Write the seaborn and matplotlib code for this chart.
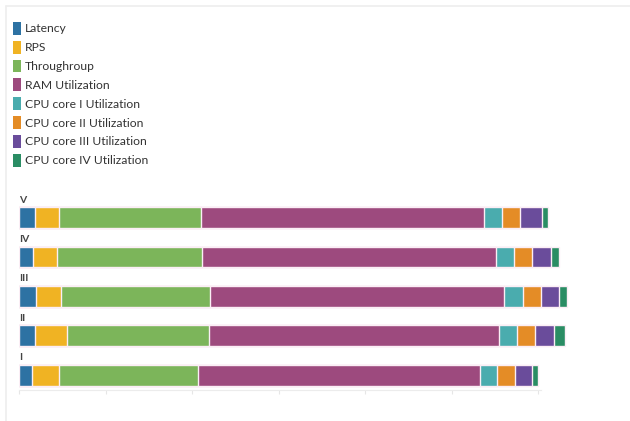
import numpy as np
import pandas as pd
import seaborn as sns
import matplotlib
matplotlib.use("Agg")
import matplotlib.pyplot as plt
from matplotlib.patches import Patch
from matplotlib.lines import Line2D

categories = ["V", "IV", "III", "II", "I"]
series = ["Latency", "RPS", "Throughroup", "RAM Utilization",
          "CPU core I Utilization", "CPU core II Utilization",
          "CPU core III Utilization", "CPU core IV Utilization"]
latency = [1.85, 1.62, 1.93, 1.85, 1.54]
rps = [2.77, 2.77, 2.92, 3.66, 3.12]
throughput = [16.4, 16.8, 17.2, 16.45, 16.0]
ram = [32.7, 34.0, 34.0, 33.5, 32.6]
cpu1 = [2.08, 2.08, 2.16, 2.08, 2.05]
cpu2 = [2.08, 2.08, 2.12, 2.08, 2.03]
cpu3 = [2.54, 2.2, 2.05, 2.2, 2.01]
cpu4 = [0.69, 0.92, 0.92, 1.27, 0.69]
colors = ["#2d72a3", "#f0b323", "#7cb55a", "#9d4a7e",
          "#4aacae", "#e48c26", "#6a4c9b", "#2a8d64"]

values = [latency, rps, throughput, ram, cpu1, cpu2, cpu3, cpu4]

sns.set_theme(style="white")
plt.rcParams['font.family'] = ['Lato', 'DejaVu Sans']

W, H = 630, 421
fig = plt.figure(figsize=(W / 100, H / 100), dpi=100)

ax_left, ax_right = 19, 19 + 70 * 8.65
ax_top, ax_bot = 186, 390
ax = fig.add_axes([ax_left / W, 1 - ax_bot / H, (ax_right - ax_left) / W, (ax_bot - ax_top) / H])

cum = np.zeros(len(categories))
cums = []
for v in values:
    cum = cum + np.array(v)
    cums.append(cum.copy())

for i in range(len(series) - 1, -1, -1):
    d = pd.DataFrame({"cat": categories, "val": cums[i]})
    sns.barplot(data=d, y="cat", x="val", orient="h", color=colors[i],
                width=0.53, edgecolor="#fbeef5", linewidth=1.0,
                saturation=1, ax=ax)

ax.set_xlim(0, 70)
ax.set_ylim(4.37, -0.8)
ax.set_xlabel("")
ax.set_ylabel("")
ax.set_yticks([])
ax.set_xticks(range(0, 61, 10))
ax.set_xticklabels([])
ax.tick_params(axis="x", length=3, color="#e6e6e6", width=0.8, bottom=True)
for s in ["top", "right", "left"]:
    ax.spines[s].set_visible(False)
ax.spines["bottom"].set_color("#ececec")
ax.spines["bottom"].set_linewidth(0.8)
ax.spines["bottom"].set_bounds(0, 60.3)

for i, c in enumerate(categories):
    ax.text(0.05, i - 0.33, c, ha="left", va="bottom", fontsize=7.5,
            fontweight="bold", color="#444444")

handles = [Patch(facecolor=col, edgecolor="none", label=s)
           for s, col in zip(series, colors)]
leg = fig.legend(handles=handles, loc="upper left",
                 bbox_to_anchor=(13 / W, 1 - 22 / H), frameon=False,
                 fontsize=8.7, handlelength=0.65, handleheight=1.25,
                 handletextpad=0.35, labelspacing=0.5, borderaxespad=0,
                 borderpad=0)
for t in leg.get_texts():
    t.set_color("#333333")

fig.add_artist(Line2D([6 / W, 1], [1 - 6 / H, 1 - 6 / H], color="#eeeeee", lw=1.2))
fig.add_artist(Line2D([6 / W, 6 / W], [0, 1 - 6 / H], color="#eeeeee", lw=1.2))

fig.savefig("out.png", dpi=100)
